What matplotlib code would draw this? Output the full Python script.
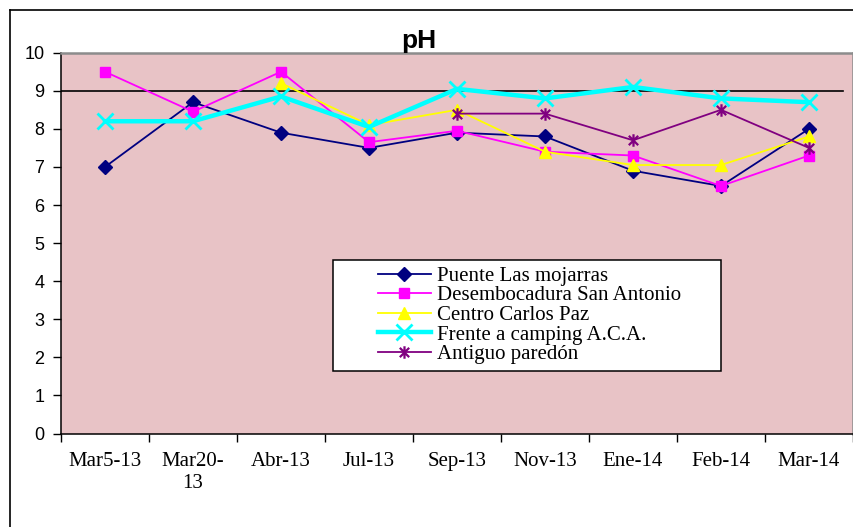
import numpy as np
import matplotlib.pyplot as plt
from matplotlib.path import Path
from matplotlib.lines import Line2D
from matplotlib.patches import Rectangle

fechas = ["Mar5-13", "Mar20-\n13", "Abr-13", "Jul-13", "Sep-13",
          "Nov-13", "Ene-14", "Feb-14", "Mar-14"]

puente = [7.0, 8.7, 7.9, 7.5, 7.9, 7.8, 6.9, 6.5, 8.0]
desembocadura = [9.5, 8.45, 9.5, 7.65, 7.95, 7.4, 7.3, 6.5, 7.3]
centro = [np.nan, np.nan, 9.2, 8.1, 8.5, 7.4, 7.05, 7.05, 7.8]
camping = [8.2, 8.2, 8.85, 8.05, 9.05, 8.8, 9.1, 8.8, 8.7]
paredon = [np.nan, np.nan, np.nan, np.nan, 8.4, 8.4, 7.7, 8.5, 7.5]

limite = 9.0

serif = ["Liberation Serif", "DejaVu Serif"]
sans = ["Liberation Sans", "DejaVu Sans"]

# asterisco estilo Excel: vertical + X
star = Path([(0, -1), (0, 1), (-0.75, -0.75), (0.75, 0.75), (-0.75, 0.75), (0.75, -0.75)],
            [Path.MOVETO, Path.LINETO, Path.MOVETO, Path.LINETO, Path.MOVETO, Path.LINETO])

fig = plt.figure(figsize=(8.54, 5.27), dpi=100)
ax = fig.add_axes([61 / 854, 1 - 433.5 / 527, 792 / 854, 380.8 / 527])
ax.set_facecolor("#E8C3C6")

x = np.arange(len(fechas))
ax.plot(x, puente, color="#000080", lw=1.3, marker="D", ms=7, label="Puente Las mojarras")
ax.plot(x, desembocadura, color="#FF00FF", lw=1.3, marker="s", ms=7.5, label="Desembocadura San Antonio")
ax.plot(x, centro, color="#FFFF00", lw=1.3, marker="^", ms=9, label="Centro Carlos Paz")
ax.plot(x, camping, color="#00FFFF", lw=3.2, marker="x", ms=12, mew=2, label="Frente a camping A.C.A.")
ax.plot(x, paredon, color="#800080", lw=1.3, marker=star, ms=9, mew=1.6, label="Antiguo paredón")

ax.axhline(limite, xmin=0, xmax=(842.7 - 61) / 792, color="black", lw=1.2, zorder=1)

ax.set_xlim(-0.5, len(fechas) - 0.5)
ax.set_ylim(0, 10)
ax.set_yticks(range(0, 11))
ax.set_yticklabels([str(v) for v in range(0, 11)], family=sans, fontsize=13)
ax.tick_params(axis="y", direction="out", length=6, width=1, pad=6)

ax.set_xticks(np.arange(-0.5, len(fechas)), labels=[])
ax.set_xticks(x, labels=fechas, minor=True)
ax.tick_params(axis="x", which="major", direction="out", length=6, width=1)
ax.tick_params(axis="x", which="minor", length=0, pad=13)
for t in ax.get_xticklabels(minor=True):
    t.set_family(serif)
    t.set_fontsize(15)
    t.set_linespacing(1.25)

for s in ["left", "bottom"]:
    ax.spines[s].set_color("black")
    ax.spines[s].set_linewidth(1.1)
for s in ["top", "right"]:
    ax.spines[s].set_color("#8C8C8C")
    ax.spines[s].set_linewidth(1.8)

# caja de la leyenda
ax.add_patch(Rectangle((0.343, 0.164), 0.49, 0.2916, transform=ax.transAxes,
                       facecolor="white", edgecolor="black", lw=1.1, zorder=5))
leg = ax.legend(loc="upper left", bbox_to_anchor=(0.4, 0.439), frameon=False,
                borderpad=0, borderaxespad=0, handlelength=2.55, handletextpad=0.3,
                labelspacing=0.0, prop={"family": serif, "size": 15})
leg.set_zorder(6)

fig.text(419 / 854, 1 - 48 / 527, "pH", ha="center", va="baseline",
         fontsize=19, fontweight="bold", family=sans)

# marco exterior del grafico
fig.add_artist(Line2D([10 / 854, 10 / 854], [0, 1 - 10 / 527], color="black", lw=1.2))
fig.add_artist(Line2D([10 / 854, 1], [1 - 10 / 527, 1 - 10 / 527], color="black", lw=1.2))

fig.savefig("out.png", dpi=100)
